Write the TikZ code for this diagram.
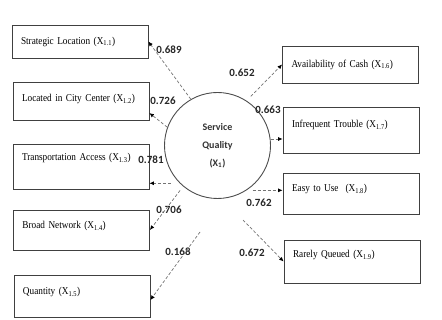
\documentclass[tikz,border=0pt]{standalone}
\usepackage{fontspec}
\setmainfont[FakeStretch=0.88]{Liberation Serif}
\newfontfamily\numfont{Carlito}
\usetikzlibrary{arrows.meta,positioning,calc}

\begin{document}
\begin{tikzpicture}[x=1pt, y=-1pt,
    pbox/.style={draw=black!75, line width=0.8pt, rectangle, align=left,
        inner xsep=9pt, text width=118pt, font=\fontsize{10.5}{12}\selectfont},
    coef/.style={font=\numfont\bfseries\fontsize{11}{13}\selectfont, text=black!85, inner sep=1pt},
    arr/.style={densely dashed, draw=black!55, line width=0.7pt,
        -{Latex[length=4.5pt, width=4pt, color=black]}}]
    \useasboundingbox (0,0) rectangle (442,320);

    % latent variable
    \node [draw=black!70, line width=0.9pt, circle, minimum size=106pt, align=center,
        font=\numfont\bfseries\fontsize{10}{18}\selectfont, text=black!80] (sq) at (217.5,145.5)
        {Service\\Quality\\(X\textsubscript{1})};

    % indicators, left
    \node [pbox, minimum height=33pt] (s1) at (80,41.5) {Strategic Location (X\textsubscript{1.1})};
    \node [pbox, minimum height=38pt, text depth=6pt] (s2) at (81,101) {Located in City Center (X\textsubscript{1.2})};
    \node [pbox, minimum height=45pt, text depth=19pt] (s3) at (81,166.5) {Transportation Access (X\textsubscript{1.3})};
    \node [pbox, minimum height=40pt, text depth=10pt] (s4) at (81.5,230) {Broad Network (X\textsubscript{1.4})};
    \node [pbox, minimum height=42pt, text depth=10pt] (s5) at (82,296) {Quantity (X\textsubscript{1.5})};

    % indicators, right
    \node [pbox, minimum height=37pt] (s6) at (350.5,64.5) {Availability of Cash (X\textsubscript{1.6})};
    \node [pbox, minimum height=46pt, text depth=12pt] (s7) at (351,130) {Infrequent Trouble (X\textsubscript{1.7})};
    \node [pbox, minimum height=41pt, text depth=11pt] (s8) at (351,193.5) {Easy to Use~ (X\textsubscript{1.8})};
    \node [pbox, minimum height=43pt, text depth=15pt] (s9) at (352,261.5) {Rarely Queued (X\textsubscript{1.9})};

    % loadings
    \node [coef] (l1) at (169,50) {0.689};
    \node [coef] (l2) at (163,101) {0.726};
    \node [coef] (l3) at (151,160) {0.781};
    \node [coef] (l4) at (169,210) {0.706};
    \node [coef] (l5) at (178,252) {0.168};
    \node [coef] (l6) at (242,73) {0.652};
    \node [coef] (l7) at (268,110) {0.663};
    \node [coef] (l8) at (259,203) {0.762};
    \node [coef] (l9) at (252,253) {0.672};

    \coordinate (q5) at (200,232);
    \coordinate (q9) at (243,220);

    \draw [arr] (sq.120) -- (s1.east);
    \draw [arr] (sq.160) -- ([yshift=-12pt]s2.east);
    \draw [arr, shorten <=9pt] (sq.225) -- (sq.225 -| s3.east);
    \draw [arr, shorten <=5pt] (sq.230) -- (s4.east);
    \draw [arr] (q5) -- ([yshift=-4pt]s5.east);
    \draw [arr, shorten <=6pt] (sq.57) -- (s6.west);
    \draw [arr] (sq.7) -- (sq.7 -| s7.west);
    \draw [arr, shorten <=6pt] (sq.-57) -- (sq.-57 -| s8.west);
    \draw [arr] (q9) -- (s9.west);
\end{tikzpicture}
\end{document}
